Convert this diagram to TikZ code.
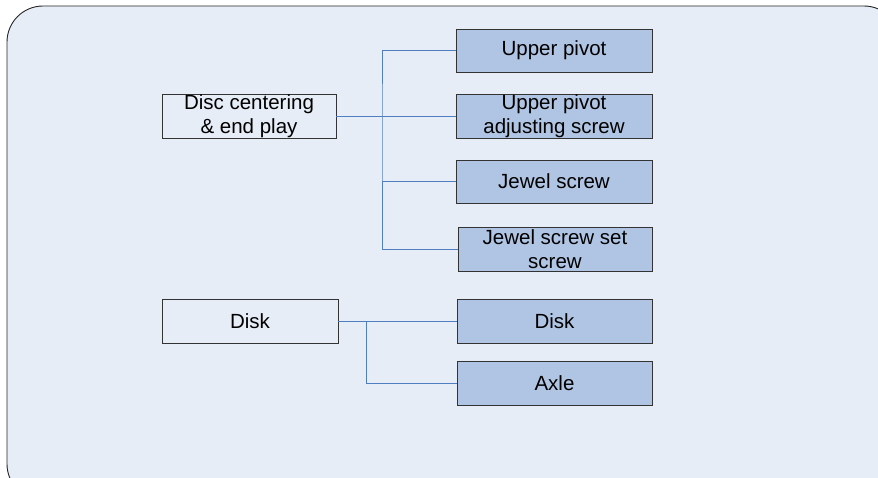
\documentclass[tikz,border=0pt]{standalone}
\usepackage{fontspec}
\setmainfont{Liberation Sans}
\begin{document}
\begin{tikzpicture}[x=1pt,y=-1pt,
  bg/.style={fill=bgblue,draw=black!85,line width=0.9pt,rounded corners=36pt},
  leftbox/.style={draw=black!80,fill=bgblue,line width=0.8pt,inner sep=0pt,font=\fontsize{20.5}{24}\selectfont,align=center},
  rightbox/.style={draw=black!80,fill=boxblue,line width=0.8pt,inner sep=0pt,font=\fontsize{20.5}{24}\selectfont,align=center},
  link/.style={draw=linkblue,line width=0.8pt}]
\definecolor{bgblue}{HTML}{E7EDF7}
\definecolor{boxblue}{HTML}{B0C5E3}
\definecolor{linkblue}{HTML}{4F7FC0}
\useasboundingbox (0,0) rectangle (878,477);
\begin{scope}
\clip (0,0) rectangle (878,477);
\path[bg] (7,6) rectangle (900,500);
\end{scope}
% left boxes
\node[leftbox,minimum width=174pt,minimum height=44pt] (dc) at (249,116) {Disc centering\\\& end play};
\node[leftbox,minimum width=176pt,minimum height=44pt] (dk) at (250,321) {Disk};
% right boxes
\node[rightbox,minimum width=196pt,minimum height=43pt] (up) at (554,50.5) {Upper pivot};
\node[rightbox,minimum width=196pt,minimum height=44pt] (upa) at (554,116) {Upper pivot\\adjusting screw};
\node[rightbox,minimum width=196pt,minimum height=43pt] (js) at (554,181.5) {Jewel screw};
\node[rightbox,minimum width=194pt,minimum height=44pt] (jss) at (555,249) {Jewel screw set\\screw};
\node[rightbox,minimum width=195pt,minimum height=44pt] (dk2) at (554.5,321) {Disk};
\node[rightbox,minimum width=195pt,minimum height=44pt] (ax) at (554.5,383) {Axle};
% connectors
\coordinate (j1) at (382,116);
\draw[link] (dc.east) -- (upa.west);
\draw[link] (up.west) -| (j1) |- (jss.west);
\draw[link] (js.west) -- (js.west -| j1);
\coordinate (j2) at (366,321);
\draw[link] (dk.east) -- (dk2.west);
\draw[link] (j2) |- (ax.west);
\end{tikzpicture}
\end{document}
